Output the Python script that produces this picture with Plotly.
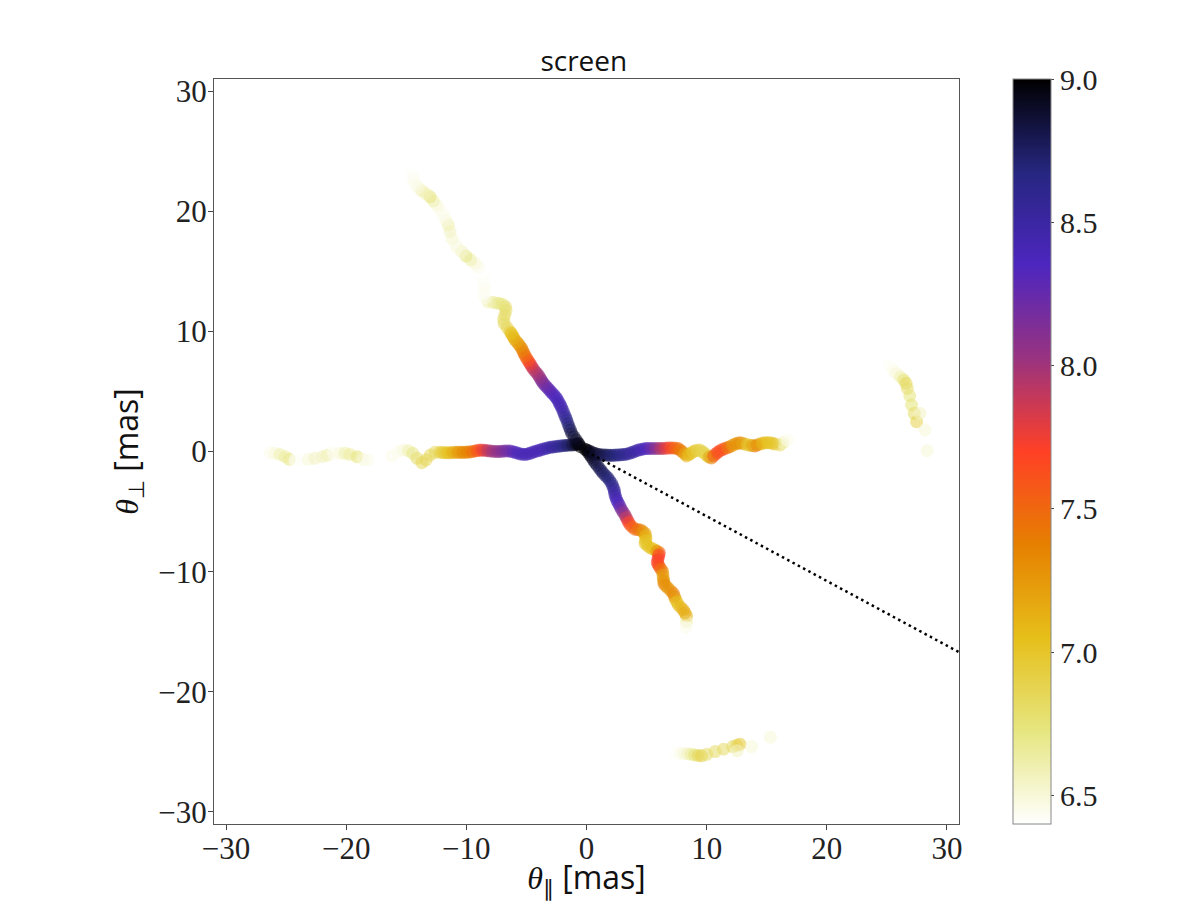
import plotly.graph_objects as go

# values: position in mas, colour value per point
nw_x = [-0.5, -0.85, -1.23, -1.45, -1.65, -1.85, -2.06, -2.25, -2.48, -2.75, -3.04, -3.3, -3.59, -3.8, -4.01, -4.3,
        -4.56, -4.75, -4.98, -5.2, -5.39, -5.65, -5.95, -6.15, -6.36, -6.6, -6.86, -6.9, -6.8, -6.7, -6.75, -7.0,
        -7.34, -7.75, -8.17, -8.45, -8.53, -8.53, -8.53, -8.62, -8.72, -9.0, -9.28, -9.65, -10.02, -10.4, -10.8,
        -11.0, -11.21, -11.35, -11.5, -11.7, -11.91, -12.2, -12.46, -12.75, -13.02, -13.35, -13.71, -14.0, -14.27,
        -14.4, -14.49, -14.54]
nw_y = [0.4, 0.95, 1.5, 2.05, 2.62, 3.1, 3.62, 4.0, 4.42, 4.75, 5.06, 5.35, 5.67, 6.0, 6.36, 6.7,
        7.06, 7.4, 7.75, 8.15, 8.58, 8.95, 9.28, 9.65, 9.97, 10.3, 10.66, 11.0, 11.36, 11.75, 12.05, 12.25,
        12.33, 12.4, 12.46, 12.8, 13.16, 13.65, 14.13, 14.55, 14.96, 15.35, 15.66, 15.95, 16.26, 16.65, 17.04,
        17.4, 17.74, 18.3, 18.84, 19.25, 19.68, 20.1, 20.5, 20.85, 21.2, 21.45, 21.7, 22.0, 22.3,
        22.7, 23.1, 23.8]
nw_c = [9.0, 8.9, 8.85, 8.75, 8.65, 8.55, 8.45, 8.4, 8.4, 8.35, 8.3, 8.25, 8.2, 8.1, 8.0, 7.95,
        7.85, 7.7, 7.55, 7.45, 7.35, 7.25, 7.15, 7.1, 7.0, 6.9, 6.85, 6.8, 6.8, 6.8, 6.8, 6.75,
        6.75, 6.7, 6.6, 6.45, 6.42, 6.45, 6.42, 6.42, 6.4, 6.45, 6.5, 6.6, 6.7, 6.55, 6.5,
        6.45, 6.5, 6.55, 6.6, 6.5, 6.45, 6.45, 6.5, 6.6, 6.75, 6.6, 6.6, 6.5, 6.45,
        6.45, 6.42, 6.4]
nw_more_x = [-0.67, -1.04, -1.34, -1.55, -1.75, -1.95, -2.15, -2.36, -2.61, -2.9, -3.17, -3.45, -3.7, -3.9, -4.15,
             -4.43, -4.65, -4.86, -5.09, -5.3, -5.52, -5.8, -6.05, -6.25]
nw_more_y = [0.68, 1.22, 1.78, 2.33, 2.86, 3.36, 3.81, 4.21, 4.58, 4.9, 5.2, 5.51, 5.83, 6.18, 6.53,
             6.88, 7.23, 7.57, 7.95, 8.36, 8.76, 9.11, 9.46, 9.81]
nw_more_c = [8.95, 8.88, 8.8, 8.7, 8.6, 8.5, 8.42, 8.4, 8.38, 8.32, 8.28, 8.22, 8.15, 8.05, 7.98,
             7.9, 7.78, 7.62, 7.5, 7.4, 7.3, 7.2, 7.12, 7.05]

west_x = [-27.44, -26.33, -25.9, -25.5, -25.08, -24.72, -24.25, -23.7, -23.14, -22.6, -22.0, -21.6, -21.06, -20.5,
          -20.1, -19.7, -19.1, -18.56, -18.15, -17.2, -16.6, -16.2, -15.66, -15.2, -14.8, -14.46, -14.1, -13.7,
          -13.35, -13.0, -12.6, -12.2, -11.8, -11.36, -10.9, -10.5, -10.1, -9.7, -9.28, -8.86, -8.44, -8.03, -7.6,
          -7.2, -6.8, -6.36, -5.95, -5.53, -5.1, -4.7, -4.28, -3.87, -3.45, -3.03, -2.62, -2.2, -1.79, -1.37, -0.96,
          -0.68]
west_y = [-0.37, -0.1, -0.15, -0.24, -0.43, -0.65, -0.71, -0.71, -0.65, -0.57, -0.43, -0.32, -0.15, -0.15,
          -0.15, -0.24, -0.43, -0.65, -0.7, -0.7, -0.5, -0.37, 0.0, 0.12, 0.07, -0.15, -0.57, -0.93,
          -0.7, -0.29, -0.07, -0.07, -0.1, -0.1, -0.07, -0.07, -0.07, -0.04, 0.04, 0.12, 0.1, 0.04, 0.0,
          0.0, 0.04, 0.04, -0.07, -0.2, -0.24, -0.15, 0.0, 0.12, 0.24, 0.35, 0.4, 0.46, 0.5, 0.54, 0.57,
          0.62]
west_c = [6.4, 6.45, 6.5, 6.6, 6.65, 6.7, 6.42, 6.42, 6.5, 6.55, 6.55, 6.6, 6.45, 6.5,
          6.6, 6.65, 6.75, 6.5, 6.45, 6.4, 6.4, 6.45, 6.45, 6.5, 6.6, 6.7, 6.8, 6.85,
          6.85, 6.85, 6.85, 6.9, 7.0, 7.1, 7.2, 7.3, 7.35, 7.4, 7.55, 7.7, 7.85, 8.0, 8.05,
          8.1, 8.2, 8.25, 8.35, 8.4, 8.4, 8.4, 8.4, 8.4, 8.45, 8.5, 8.55, 8.6, 8.7, 8.8, 8.9,
          9.0]
west_more_x = [-12.0, -11.58, -11.13, -10.7, -10.3, -9.9, -9.49, -9.07, -8.65, -8.23, -7.81, -7.4, -7.0, -6.58,
               -6.15, -5.74, -5.31, -4.9, -4.49, -4.07, -3.66, -3.24, -2.82, -2.41, -1.99, -1.58, -1.16, -0.82]
west_more_y = [-0.08, -0.1, -0.08, -0.07, -0.07, -0.05, 0.0, 0.08, 0.11, 0.07, 0.02, 0.0, 0.02, 0.04,
               -0.02, -0.13, -0.22, -0.2, -0.07, 0.06, 0.18, 0.29, 0.38, 0.43, 0.48, 0.52, 0.55, 0.6]
west_more_c = [6.95, 7.05, 7.15, 7.25, 7.32, 7.38, 7.48, 7.62, 7.78, 7.92, 8.02, 8.08, 8.15, 8.22,
               8.3, 8.38, 8.4, 8.4, 8.4, 8.4, 8.42, 8.48, 8.52, 8.58, 8.65, 8.75, 8.85, 8.95]

east_x = [-0.12, 0.15, 0.57, 0.98, 1.4, 1.82, 2.23, 2.65, 3.06, 3.48, 3.9, 4.31, 4.73, 5.14, 5.56, 5.98, 6.39, 6.8,
          7.22, 7.64, 8.0, 8.33, 8.67, 9.03, 9.44, 9.77, 10.05, 10.41, 10.75, 11.1, 11.52, 11.94, 12.35, 12.77,
          13.19, 13.6, 14.02, 14.43, 14.85, 15.27, 15.68, 16.1, 16.37, 16.7]
east_y = [0.18, 0.07, -0.12, -0.24, -0.29, -0.32, -0.32, -0.29, -0.26, -0.18, -0.04, 0.12, 0.21, 0.26, 0.26, 0.26,
          0.26, 0.29, 0.29, 0.24, -0.04, -0.37, -0.15, 0.07, 0.12, -0.1, -0.37, -0.54, -0.2, 0.07, 0.26, 0.4, 0.62,
          0.73, 0.62, 0.51, 0.46, 0.62, 0.73, 0.73, 0.62, 0.54, 0.73, 0.96]
east_c = [9.0, 8.95, 8.9, 8.85, 8.8, 8.75, 8.7, 8.65, 8.6, 8.55, 8.5, 8.45, 8.4, 8.3, 8.15, 8.0, 7.85, 7.7,
          7.55, 7.45, 7.35, 7.1, 7.0, 6.95, 6.9, 6.85, 6.9, 7.4, 7.65, 7.65, 7.6, 7.3, 7.2, 7.4,
          7.0, 6.95, 7.5, 7.1, 7.05, 7.0, 7.0, 6.85, 6.6, 6.45]
east_more_x = [0.0, 0.36, 0.78, 1.19, 1.61, 2.03, 2.44, 2.85, 3.27, 3.69, 4.1, 4.52, 4.94, 5.35, 5.77, 6.18, 6.6,
               7.01, 7.43, 7.82, 8.17, 8.5, 8.85, 9.23, 9.6, 9.91, 10.23, 10.58, 10.92, 11.31, 11.73, 12.15, 12.56,
               12.98, 13.4, 13.81, 14.22, 14.64, 15.06, 15.47]
east_more_y = [0.13, -0.02, -0.18, -0.27, -0.3, -0.32, -0.3, -0.28, -0.22, -0.11, 0.04, 0.17, 0.24, 0.26, 0.26,
               0.26, 0.27, 0.29, 0.27, 0.1, -0.2, -0.26, -0.04, 0.1, 0.01, -0.24, -0.46, -0.37, -0.07, 0.16, 0.33,
               0.51, 0.68, 0.68, 0.57, 0.49, 0.54, 0.68, 0.73, 0.68]
east_more_c = [8.98, 8.92, 8.88, 8.82, 8.78, 8.72, 8.68, 8.62, 8.58, 8.52, 8.48, 8.42, 8.35, 8.22, 8.08, 7.92, 7.78,
               7.62, 7.5, 7.4, 7.2, 7.05, 6.98, 6.92, 6.88, 6.88, 7.2, 7.55, 7.65, 7.62, 7.45, 7.25, 7.3,
               7.2, 6.98, 7.2, 7.3, 7.08, 7.02, 7.0]

south_x = [0.15, 0.43, 0.71, 1.07, 1.4, 1.76, 2.09, 2.29, 2.37, 2.51, 2.73, 2.93, 3.2, 3.4, 3.62, 4.03, 4.5, 4.87,
           4.95, 4.87, 5.23, 5.7, 6.06, 5.98, 5.89, 6.06, 6.34, 6.39, 6.45, 6.8, 7.22, 7.41, 7.64, 8.06, 8.33, 8.33,
           8.27]
south_y = [-0.1, -0.49, -0.93, -1.4, -1.82, -2.18, -2.65, -3.15, -3.62, -4.04, -4.45, -4.87, -5.28, -5.7, -6.11,
           -6.47, -6.53, -6.8, -7.22, -7.64, -7.97, -8.19, -8.42, -8.8, -9.25, -9.58, -10.0, -10.55, -11.02, -11.38,
           -11.8, -12.3, -12.77, -13.19, -13.68, -14.16, -14.63]
south_c = [9.0, 8.9, 8.85, 8.8, 8.75, 8.7, 8.65, 8.55, 8.45, 8.4, 8.3, 8.15, 8.0, 7.8, 7.6, 7.5, 7.4, 7.15,
           7.05, 7.0, 7.0, 7.1, 7.6, 7.75, 7.7, 7.6, 7.3, 7.15, 7.4, 7.2, 7.45, 7.1, 7.0, 7.2, 7.1, 6.6,
           6.45]
south_more_x = [0.29, 0.57, 0.89, 1.23, 1.58, 1.92, 2.19, 2.33, 2.44, 2.62, 2.83, 3.06, 3.3, 3.51, 3.82, 4.26, 4.68,
                4.91, 4.91, 5.05, 5.46, 5.88, 6.02, 5.93, 5.97, 6.2, 6.36, 6.42, 6.62, 7.01, 7.31, 7.52, 7.85, 8.2]
south_more_y = [-0.3, -0.71, -1.16, -1.61, -2.0, -2.41, -2.9, -3.38, -3.83, -4.25, -4.66, -5.07, -5.49, -5.9, -6.29,
                -6.5, -6.66, -7.01, -7.43, -7.8, -8.08, -8.3, -8.61, -9.02, -9.41, -9.79, -10.27, -10.78, -11.2,
                -11.59, -12.05, -12.53, -12.98, -13.43]
south_more_c = [8.95, 8.88, 8.82, 8.78, 8.72, 8.68, 8.6, 8.5, 8.42, 8.35, 8.22, 8.08, 7.9, 7.7, 7.55, 7.45, 7.28,
                7.1, 7.02, 7.0, 7.05, 7.3, 7.7, 7.72, 7.65, 7.45, 7.22, 7.3, 7.3, 7.3, 7.3, 7.05, 7.1, 7.15]

image_s_x = [7.4, 7.8, 8.1, 8.4, 8.7, 9.0, 9.3, 9.58, 10.0, 10.7, 11.4, 12.16, 12.5, 12.77, 12.55, 13.74, 15.3]
image_s_y = [-25.12, -25.12, -25.13, -25.15, -25.2, -25.25, -25.3, -25.33, -25.2, -24.97, -24.78, -24.56, -24.45,
             -24.36, -24.9, -24.56, -23.78]
image_s_c = [6.42, 6.45, 6.5, 6.55, 6.65, 6.75, 6.85, 6.9, 6.8, 6.8, 6.8, 6.8, 6.85, 6.95, 6.55, 6.5, 6.5]

image_e_x = [25.0, 25.25, 25.5, 25.8, 26.14, 26.4, 26.6, 26.7, 26.9, 27.05, 27.27, 27.47, 27.74, 28.16, 28.35]
image_e_y = [7.6, 7.2, 6.78, 6.5, 6.2, 5.95, 5.67, 5.25, 4.64, 3.87, 3.18, 2.48, 3.18, 1.79, 0.07]
image_e_c = [6.4, 6.42, 6.45, 6.5, 6.6, 6.75, 6.85, 6.8, 6.75, 6.75, 6.8, 6.9, 6.55, 6.5, 6.5]

dotted_x = [0, 31]
dotted_y = [0, -16.7]

ticks = [-30, -20, -10, 0, 10, 20, 30]
cbar_ticks = [6.5, 7.0, 7.5, 8.0, 8.5, 9.0]

# CMRmap reversed
cmrmap_r = [
    [0.0, "rgb(255,255,255)"],
    [0.125, "rgb(230,230,128)"],
    [0.25, "rgb(230,191,26)"],
    [0.375, "rgb(230,128,0)"],
    [0.5, "rgb(255,64,38)"],
    [0.625, "rgb(153,51,128)"],
    [0.75, "rgb(77,38,191)"],
    [0.875, "rgb(38,38,128)"],
    [1.0, "rgb(0,0,0)"],
]

serif = "Liberation Serif"

x = image_s_x + image_e_x + west_x + west_more_x + south_x + south_more_x + east_x + east_more_x + nw_x + nw_more_x
y = image_s_y + image_e_y + west_y + west_more_y + south_y + south_more_y + east_y + east_more_y + nw_y + nw_more_y
c = image_s_c + image_e_c + west_c + west_more_c + south_c + south_more_c + east_c + east_more_c + nw_c + nw_more_c

fig = go.Figure()
fig.add_trace(go.Scatter(
    x=x, y=y, mode="markers", showlegend=False,
    marker=dict(size=13, color=c, cmin=6.4, cmax=9.0, colorscale=cmrmap_r, opacity=0.55, line=dict(width=0),
                colorbar=dict(x=1.0725, xanchor="left", y=0, yanchor="bottom", len=1, lenmode="fraction",
                              thickness=38, thicknessmode="pixels", xpad=0, ypad=0,
                              outlinewidth=1, outlinecolor="#888888",
                              tickvals=cbar_ticks, tickformat=".1f", ticks="outside", ticklen=3, tickwidth=1,
                              tickcolor="#444444", tickfont=dict(family=serif, size=30, color="#222222")))))
fig.add_trace(go.Scatter(
    x=dotted_x, y=dotted_y, mode="lines", showlegend=False,
    line=dict(color="black", width=2.5, dash="2.5px,3.5px")))

axis = dict(range=[-31, 31], tickvals=ticks, ticks="outside", ticklen=5, tickwidth=1, tickcolor="#444444",
            showgrid=False, zeroline=False, showline=True, mirror=True, linecolor="#555555", linewidth=1,
            automargin=False, tickfont=dict(family=serif, size=31, color="#222222"))

# the page keeps an 8px body margin, so the figure is that much smaller than the window
fig.update_layout(
    width=1180, height=893,
    margin=dict(l=206, r=229, t=71, b=77),
    paper_bgcolor="white", plot_bgcolor="white",
    title=dict(text="screen", x=0.488, xanchor="center", y=0.9406, yanchor="middle",
               font=dict(family="Open Sans", size=28, color="#111111")),
    font=dict(family="Open Sans", color="#111111"),
    xaxis=dict(axis, ticklabelstandoff=-8,
               title=dict(text='<span style="font-family:Liberation Serif"><i>θ</i><sub>∥</sub></span> [mas]',
                          font=dict(size=32), standoff=14)),
    yaxis=dict(axis, ticklabelstandoff=-5,
               title=dict(text='<span style="font-family:Liberation Serif"><i>θ</i><sub>⊥</sub></span> [mas]',
                          font=dict(size=32), standoff=10)),
)

fig.write_html("out.html")
